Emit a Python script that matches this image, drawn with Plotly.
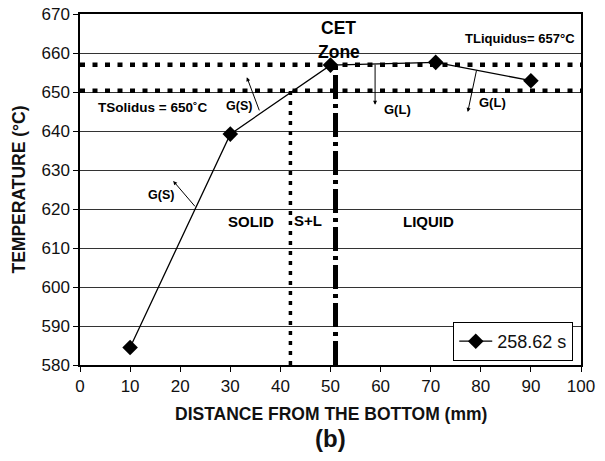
import plotly.graph_objects as go

# ---- data ----
distance_mm = [10, 30, 50, 71, 90]
temperature_c = [584.5, 639.2, 656.9, 657.6, 652.9]
series_name = "258.62 s"

t_liquidus = 657.0
t_solidus = 650.3
x_sl_boundary = 42.0
x_cet = 51.0

x_ticks = [0, 10, 20, 30, 40, 50, 60, 70, 80, 90, 100]
y_ticks = [580, 590, 600, 610, 620, 630, 640, 650, 660, 670]

# arrows: (tail_x, tail_y, head_x, head_y)
gs_arrows = [(35.9, 644.9, 33.3, 653.8), (23.2, 620.3, 18.6, 627.2)]
gl_arrows = [(58.9, 657.4, 58.9, 646.7), (79.2, 655.9, 77.4, 644.9)]

FONT = "Arial, Liberation Sans, sans-serif"

fig = go.Figure()

# horizontal dotted liquidus / solidus lines
for t in [t_liquidus, t_solidus]:
    fig.add_trace(go.Scatter(x=[0, 100], y=[t, t], mode="lines",
                             line=dict(color="black", width=4.5, dash="5px,7.5px"),
                             showlegend=False, hoverinfo="skip"))

# vertical dotted S+L boundary
fig.add_trace(go.Scatter(x=[x_sl_boundary, x_sl_boundary], y=[580, t_solidus], mode="lines",
                         line=dict(color="black", width=3.5, dash="4px,6px"),
                         showlegend=False, hoverinfo="skip"))
# vertical dash-dot CET line
fig.add_trace(go.Scatter(x=[x_cet, x_cet], y=[580, t_liquidus], mode="lines",
                         line=dict(color="black", width=5, dash="24px,5px,4px,5px"),
                         showlegend=False, hoverinfo="skip"))

# data series
fig.add_trace(go.Scatter(x=distance_mm, y=temperature_c, mode="lines+markers",
                         name=series_name,
                         line=dict(color="black", width=1.3),
                         marker=dict(symbol="diamond", size=12, color="black")))

annotations = []
for tx, ty, hx, hy in gs_arrows + gl_arrows:
    annotations.append(dict(x=hx, y=hy, ax=tx, ay=ty, xref="x", yref="y",
                            axref="x", ayref="y", text="", showarrow=True,
                            arrowhead=2, arrowsize=0.8, arrowwidth=1, arrowcolor="black"))

def txt(x, y, s, size, bold=True, xanchor="center"):
    annotations.append(dict(x=x, y=y, xref="x", yref="y", text=f"<b>{s}</b>" if bold else s,
                            showarrow=False, xanchor=xanchor, yanchor="middle",
                            font=dict(family=FONT, size=size, color="black")))

txt(51.5, 666.4, "CET", 17.5)
txt(51.7, 660.2, "Zone", 17.5)
txt(99.3, 663.6, "TLiquidus= 657°C", 13, xanchor="right")
txt(3.2, 645.9, "TSolidus = 650˚C", 13.5, xanchor="left")
txt(31.7, 646.4, "G(S)", 12.5)
txt(16.2, 623.6, "G(S)", 12.5)
txt(63.3, 645.6, "G(L)", 13)
txt(82.4, 647.2, "G(L)", 13)
txt(34.1, 616.7, "SOLID", 15)
txt(45.6, 617.0, "S+L", 15)
txt(69.5, 616.7, "LIQUID", 15)

annotations.append(dict(x=0.5, y=0, xref="paper", yref="paper", yshift=-49,
                        text="<b>DISTANCE FROM THE BOTTOM (mm)</b>", showarrow=False,
                        yanchor="middle", xanchor="center",
                        font=dict(family=FONT, size=17.5, color="#111")))
annotations.append(dict(x=0.5, y=0, xref="paper", yref="paper", yshift=-73,
                        text="<b>(b)</b>", showarrow=False,
                        yanchor="middle", xanchor="center",
                        font=dict(family=FONT, size=24, color="#111")))
annotations.append(dict(x=0, y=0.5, xref="paper", yref="paper", xshift=-62,
                        text="<b>TEMPERATURE (°C)</b>", showarrow=False, textangle=-90,
                        yanchor="middle", xanchor="center",
                        font=dict(family=FONT, size=17.5, color="#111")))

fig.update_layout(
    width=605, height=461, autosize=False,
    margin=dict(l=80, r=24, t=14, b=96, pad=0),
    paper_bgcolor="white", plot_bgcolor="white",
    font=dict(family=FONT, size=17, color="#111"),
    annotations=annotations,
    showlegend=True,
    legend=dict(x=0.745, y=0.1225, xanchor="left", yanchor="top",
                bgcolor="white", bordercolor="black", borderwidth=1,
                font=dict(family=FONT, size=18, color="#111"),
                itemwidth=33, tracegroupgap=0),
)
fig.update_xaxes(range=[0, 100], tickvals=x_ticks, ticks="outside", ticklen=5,
                 tickcolor="black", showline=True, linecolor="black", linewidth=1.5,
                 mirror=True, showgrid=False, zeroline=False, automargin=False,
                 tickfont=dict(family=FONT, size=17, color="#111"))
fig.update_yaxes(range=[580, 670], tickvals=y_ticks, ticks="outside", ticklen=5,
                 tickcolor="black", showline=True, linecolor="black", linewidth=1.5,
                 mirror=True, showgrid=True, gridcolor="#333", gridwidth=1, zeroline=False,
                 automargin=False,
                 tickfont=dict(family=FONT, size=17, color="#111"))

fig.write_html("out.html")
